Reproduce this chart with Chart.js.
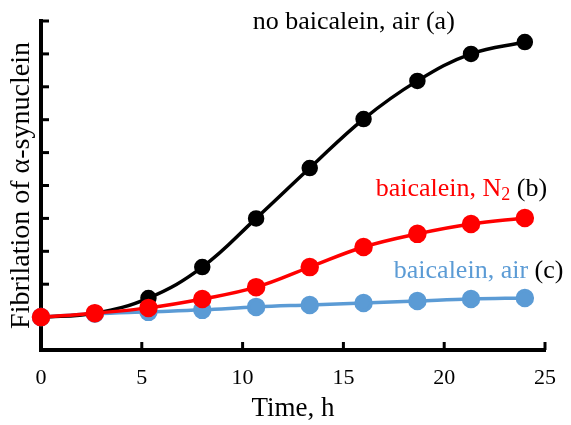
<!DOCTYPE html>
<html>
<head>
<meta charset="utf-8">
<script src="https://cdn.jsdelivr.net/npm/chart.js@4.4.1/dist/chart.umd.min.js"></script>
<style>
  html, body { margin: 0; padding: 0; background: #fff; }
  #wrap { width: 571px; height: 425px; }
</style>
</head>
<body>
<div id="wrap"><canvas id="fib"></canvas></div>
<script>
var times = [0, 2.67, 5.33, 8, 10.67, 13.33, 16, 18.67, 21.33, 24];
var noBaicaleinAir = [1.0, 1.12, 1.58, 2.52, 4.0, 5.53, 7.02, 8.18, 9.0, 9.36];
var baicaleinN2 = [1.0, 1.12, 1.28, 1.55, 1.91, 2.52, 3.13, 3.53, 3.83, 4.01];
var baicaleinAir = [1.0, 1.1, 1.16, 1.22, 1.31, 1.37, 1.43, 1.49, 1.55, 1.58];
var xTicks = [0, 5, 10, 15, 20, 25];
var yTicks = [0, 1, 2, 3, 4, 5, 6, 7, 8, 9, 10];

var serif = "'Liberation Serif', 'Times New Roman', serif";

function pts(ys) {
  return times.map(function (t, i) { return { x: t, y: ys[i] }; });
}

// curve labels, anchored in data units
var notes = [
  { x: 10.5, y: 9.95, parts: [['no baicalein, air (a)', '#000']] },
  { x: 16.6, y: 4.88, parts: [['baicalein, N', '#ff0000'], ['2', '#ff0000', 'sub'], [' (b)', '#000']] },
  { x: 17.5, y: 2.4, parts: [['baicalein, air', '#5b9bd5'], [' (c)', '#000']] }
];

var innerTicks = {
  id: 'innerTicks',
  beforeDatasetsDraw: function (chart) {
    var ctx = chart.ctx, xs = chart.scales.x, ys = chart.scales.y;
    var x0 = xs.getPixelForValue(0), y0 = ys.getPixelForValue(0);
    ctx.save();
    ctx.strokeStyle = '#000';
    ctx.lineWidth = 3;
    yTicks.forEach(function (v) {
      var py = ys.getPixelForValue(v);
      ctx.beginPath(); ctx.moveTo(x0, py); ctx.lineTo(x0 + 8, py); ctx.stroke();
    });
    xTicks.forEach(function (v) {
      if (v === 0) return;
      var px = xs.getPixelForValue(v);
      ctx.beginPath(); ctx.moveTo(px, y0); ctx.lineTo(px, y0 - 8); ctx.stroke();
    });
    ctx.restore();
  }
};

var curveNotes = {
  id: 'curveNotes',
  afterDatasetsDraw: function (chart) {
    var ctx = chart.ctx, xs = chart.scales.x, ys = chart.scales.y;
    ctx.save();
    ctx.textBaseline = 'middle';
    ctx.textAlign = 'left';
    notes.forEach(function (n) {
      var px = xs.getPixelForValue(n.x), py = ys.getPixelForValue(n.y);
      n.parts.forEach(function (p) {
        var sub = p[2] === 'sub';
        ctx.font = (sub ? '18px ' : '26px ') + serif;
        ctx.fillStyle = p[1];
        ctx.fillText(p[0], px, py + (sub ? 6 : 0));
        px += ctx.measureText(p[0]).width;
      });
    });
    ctx.restore();
  }
};

new Chart(document.getElementById('fib'), {
  type: 'scatter',
  data: {
    datasets: [{
      label: 'baicalein, air (c)',
      data: pts(baicaleinAir),
      borderColor: '#5b9bd5',
      backgroundColor: '#5b9bd5',
      borderWidth: 3.5,
      pointRadius: 7.5,
      showLine: true,
      tension: 0.4,
      clip: false,
      order: 2
    }, {
      label: 'no baicalein, air (a)',
      data: pts(noBaicaleinAir),
      borderColor: '#000',
      backgroundColor: '#000',
      borderWidth: 3.5,
      pointRadius: 6.5,
      showLine: true,
      tension: 0.4,
      clip: false,
      order: 1
    }, {
      label: 'baicalein, N2 (b)',
      data: pts(baicaleinN2),
      borderColor: '#ff0000',
      backgroundColor: '#ff0000',
      borderWidth: 3.5,
      pointRadius: 7.5,
      showLine: true,
      tension: 0.4,
      clip: false,
      order: 0
    }]
  },
  options: {
    responsive: true,
    maintainAspectRatio: false,
    animation: false,
    layout: { padding: { top: 21, right: 24, left: 0, bottom: 0 } },
    plugins: { legend: { display: false }, tooltip: { enabled: false } },
    scales: {
      x: {
        type: 'linear',
        min: 0, max: 25,
        afterBuildTicks: function (s) { s.ticks = xTicks.map(function (v) { return { value: v }; }); },
        afterFit: function (s) { s.height = 75; },
        border: { display: true, color: '#000', width: 4 },
        grid: { display: false, drawTicks: false },
        ticks: { color: '#000', padding: 15, maxRotation: 0, font: { family: serif, size: 22 } },
        title: { display: true, text: 'Time, h', color: '#000', padding: { top: 0, bottom: 0 }, font: { family: serif, size: 27 } }
      },
      y: {
        type: 'linear',
        min: 0, max: 10,
        afterBuildTicks: function (s) { s.ticks = yTicks.map(function (v) { return { value: v }; }); },
        afterFit: function (s) { s.width = 41; },
        border: { display: true, color: '#000', width: 4 },
        grid: { display: false, drawTicks: false },
        ticks: { display: false },
        title: { display: true, text: 'Fibrilation of α-synuclein', color: '#000', padding: { top: 5, bottom: 0 }, font: { family: serif, size: 28 } }
      }
    }
  },
  plugins: [innerTicks, curveNotes]
});
</script>
</body>
</html>
